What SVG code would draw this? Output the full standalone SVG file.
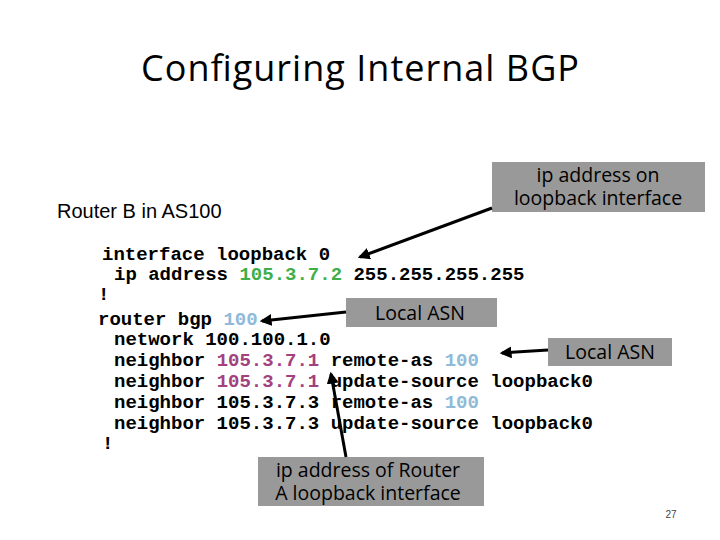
<svg xmlns="http://www.w3.org/2000/svg" width="720" height="540" viewBox="0 0 720 540">
<style>
.code{font-family:"Liberation Mono",monospace;font-weight:bold;font-size:19px;fill:#000;white-space:pre}
.box{fill:#999999}
.lbl{font-family:"Open Sans","Liberation Sans",sans-serif;font-size:19.5px;fill:#000;text-anchor:middle}
.g{fill:#3fae49}.b{fill:#8fbbd9}.m{fill:#a3407e}
.arr{stroke:#000;stroke-width:3;fill:none;marker-end:url(#ah)}
</style>
<defs><marker id="ah" viewBox="0 0 10 10" refX="8" refY="5" markerWidth="4" markerHeight="4" orient="auto"><path d="M0,0L10,5L0,10z" fill="#000"/></marker></defs>
<rect width="720" height="540" fill="#fff"/>
<text x="360" y="81" text-anchor="middle" font-family="Open Sans,Liberation Sans,sans-serif" font-size="36" textLength="438">Configuring Internal BGP</text>
<text x="57" y="218" font-family="Liberation Sans,sans-serif" font-size="20">Router B in AS100</text>
<text x="671" y="518" text-anchor="middle" font-family="Liberation Sans,sans-serif" font-size="10" fill="#444">27</text>
<g id="code">
<text class="code" x="102" y="260">interface loopback 0</text>
<text class="code" x="114" y="280">ip address <tspan class="g">105.3.7.2</tspan> 255.255.255.255</text>
<text class="code" x="98" y="300">!</text>
<text class="code" x="98" y="325">router bgp <tspan class="b">100</tspan></text>
<text class="code" x="114" y="345">network 100.100.1.0</text>
<text class="code" x="114" y="366">neighbor <tspan class="m">105.3.7.1</tspan> remote-as <tspan class="b">100</tspan></text>
<text class="code" x="114" y="387">neighbor <tspan class="m">105.3.7.1</tspan> update-source loopback0</text>
<text class="code" x="114" y="408">neighbor 105.3.7.3 remote-as <tspan class="b">100</tspan></text>
<text class="code" x="114" y="429">neighbor 105.3.7.3 update-source loopback0</text>
<text class="code" x="102" y="449">!</text>
</g>
<g id="n-loopback"><rect class="box" x="492" y="162" width="213" height="50"/><text class="lbl" x="598" y="182">ip address on</text><text class="lbl" x="598" y="205">loopback interface</text></g>
<g id="n-asn1"><rect class="box" x="346" y="298" width="151" height="29"/><text class="lbl" x="420" y="320">Local ASN</text></g>
<g id="n-asn2"><rect class="box" x="548" y="338" width="124" height="28"/><text class="lbl" x="610" y="359">Local ASN</text></g>
<g id="n-routerA"><rect class="box" x="258" y="457" width="226" height="49"/><text class="lbl" x="368" y="477">ip address of Router</text><text class="lbl" x="368" y="500">A loopback interface</text></g>
<g id="connectors">
<line class="arr" x1="492" y1="208" x2="360" y2="257"/>
<line class="arr" x1="346" y1="312" x2="262" y2="321"/>
<line class="arr" x1="548" y1="350" x2="502" y2="353"/>
<line class="arr" x1="346" y1="457" x2="331" y2="374"/>
</g>
</svg>
